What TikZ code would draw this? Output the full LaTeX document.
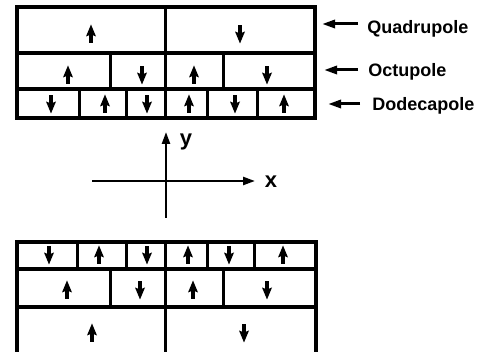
\documentclass[tikz,border=0pt]{standalone}
\usepackage{fontspec}
\setmainfont{Liberation Sans}
\usetikzlibrary{arrows.meta}

\tikzset{
  cellline/.style={line width=1.9pt, line cap=rect},
  innerline/.style={line width=1.5pt},
  fieldup/.pic={
    \fill (-1.7,9) rectangle (1.7,0);
    \fill (0,-9.5) -- (5,2.5) -- (0,0.5) -- (-5,2.5) -- cycle;
  },
  fielddown/.pic={
    \fill (-1.7,-9) rectangle (1.7,0);
    \fill (0,9.5) -- (5,-2.5) -- (0,-0.5) -- (-5,-2.5) -- cycle;
  },
  polelabel/.style={anchor=base west, inner sep=0pt, font=\bfseries\fontsize{9}{10}\selectfont},
  labelarrow/.style={line width=1.5pt, -{Triangle[length=6.5pt,width=4pt]}},
  axis/.style={line width=1.2pt, -{Triangle[length=6pt,width=4pt]}},
  axislabel/.style={inner sep=0pt, font=\bfseries\fontsize{11}{12}\selectfont},
}

\begin{document}
\begin{tikzpicture}[x=0.5pt,y=-0.5pt]
\useasboundingbox (0,0) rectangle (488,352);

% ---- upper magnet block ----
\draw[cellline] (17,7) rectangle (315,118);
\draw[cellline] (17,53) -- (315,53);
\draw[cellline] (17,89) -- (315,89);
\draw[innerline] (165,7) -- (165,118);
\foreach \x in {110,223} \draw[innerline] (\x,53) -- (\x,89);
\foreach \x in {79,126,207,257} \draw[innerline] (\x,89) -- (\x,118);

\pic at (91,34) {fieldup};
\pic at (240,34) {fielddown};
\pic at (68,75) {fieldup};
\pic at (142,75) {fielddown};
\pic at (194,75) {fieldup};
\pic at (267,75) {fielddown};
\foreach \x/\d in {51/fielddown,105/fieldup,147/fielddown,189/fieldup,235/fielddown,284/fieldup}
  \pic at (\x,104) {\d};

% ---- lower magnet block (continues past the lower edge) ----
\draw[cellline] (17,352) -- (17,242) -- (316,242) -- (316,352);
\draw[cellline] (17,269) -- (316,269);
\draw[cellline] (17,307) -- (316,307);
\draw[innerline] (165,242) -- (165,352);
\foreach \x in {77,126,207,254} \draw[innerline] (\x,242) -- (\x,269);
\foreach \x in {110,223} \draw[innerline] (\x,269) -- (\x,307);

\foreach \x/\d in {49/fielddown,99/fieldup,147/fielddown,188/fieldup,229/fielddown,283/fieldup}
  \pic at (\x,255) {\d};
\pic at (67,290) {fieldup};
\pic at (140,290) {fielddown};
\pic at (193,290) {fieldup};
\pic at (267,290) {fielddown};
\pic at (92,333) {fieldup};
\pic at (244,333) {fielddown};

% ---- multipole labels ----
\node[polelabel] (quad)  at (367,34)  {Quadrupole};
\node[polelabel] (oct)   at (368,77)  {Octupole};
\node[polelabel] (dodec) at (372,111) {Dodecapole};

\coordinate (quadtail)  at (358,24);  \coordinate (quadtip)  at (322,24);
\coordinate (octtail)   at (358,70);  \coordinate (octtip)   at (324,70);
\coordinate (dodectail) at (360,104); \coordinate (dodectip) at (328,104);
\draw[labelarrow] (quadtail) -- (quadtip);
\draw[labelarrow] (octtail) -- (octtip);
\draw[labelarrow] (dodectail) -- (dodectip);

% ---- coordinate axes ----
\coordinate (xstart) at (92,181);
\coordinate (xend)   at (255,181);
\coordinate (ystart) at (166,218);
\coordinate (yend)   at (166,132);
\draw[axis] (xstart) -- (xend);
\draw[axis] (ystart) -- (yend);
\node[axislabel] (xlab) at (271,182) {x};
\node[axislabel] (ylab) at (186,142) {y};
\end{tikzpicture}
\end{document}
